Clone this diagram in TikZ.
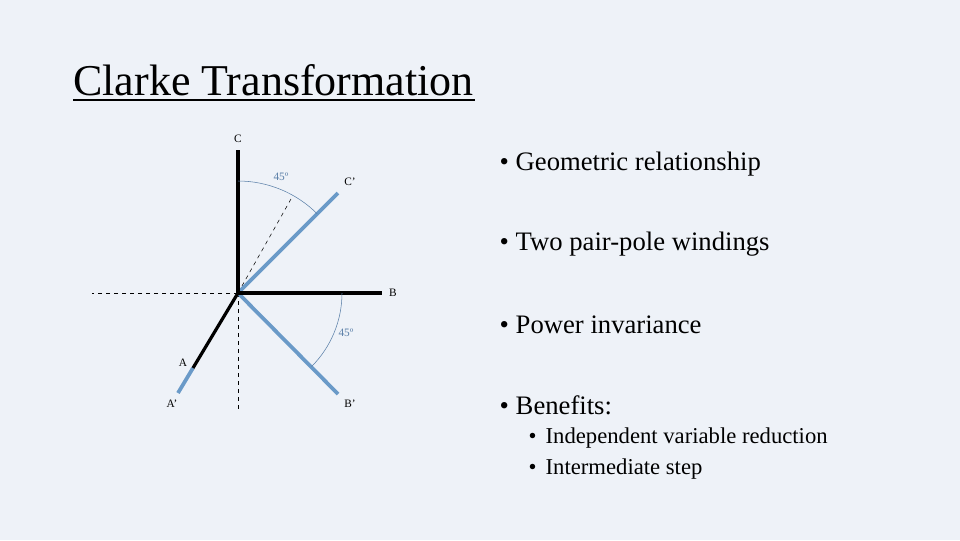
\documentclass[tikz,border=0pt]{standalone}
\usepackage{fontspec}
\setmainfont{Liberation Serif}
\begin{document}
\begin{tikzpicture}[x=0.75pt,y=-0.75pt,
  ax/.style={line width=2.4pt,black},
  bl/.style={line width=2.8pt,color=blueL},
  dsh/.style={dashed,thin},
  arcl/.style={thin,color=arcC},
  lbl/.style={font=\fontsize{8.5}{10}\selectfont},
  albl/.style={font=\fontsize{8.5}{10}\selectfont,text=arcC},
  bul/.style={anchor=west,font=\fontsize{20}{24}\selectfont},
  sbul/.style={anchor=west,font=\fontsize{17}{20}\selectfont}]
\definecolor{bg}{HTML}{EEF2F8}
\definecolor{blueL}{HTML}{6A9AC8}
\definecolor{arcC}{HTML}{5A7FA8}
\fill[bg] (0,0) rectangle (960,540);
\useasboundingbox (0,0) rectangle (960,540);
\node[anchor=west,font=\fontsize{33}{38}\selectfont,inner sep=0] (title) at (73,80) {Clarke Transformation};
\draw[line width=1.1pt] (73,100) -- (475,100);
\coordinate (O) at (238,293);
\coordinate (Ct) at (238,150);
\coordinate (Bt) at (382,293);
\coordinate (Cp) at (338,193);
\coordinate (Bp) at (338,394);
\coordinate (Ae) at (193,368);
\coordinate (Ap) at (178,393);
\coordinate (Dd) at (291,199);
\coordinate (Dl) at (92,293);
\coordinate (Dv) at (238,410);
\draw[dsh] (O) -- (Dl);
\draw[dsh] (O) -- (Dv);
\draw[dsh] (O) -- (Dd);
\draw[bl] (O) -- (Cp);
\draw[bl] (O) -- (Bp);
\draw[bl] (Ae) -- (Ap);
\draw[ax] (O) -- (Ct);
\draw[ax] (O) -- (Bt);
\draw[ax] (O) -- (Ae);
\draw[arcl] (238,181) arc[start angle=-90,end angle=-45,radius=112];
\draw[arcl] (342,293) arc[start angle=0,end angle=45,radius=104];
\node[lbl] (lC) at (238,139) {C};
\node[lbl] (lCp) at (350,182) {C’};
\node[lbl] (lB) at (393,293) {B};
\node[lbl] (lBp) at (350,404) {B’};
\node[lbl] (lA) at (183,363) {A};
\node[lbl] (lAp) at (172,404) {A’};
\node[albl] (a1) at (281,177) {45º};
\node[albl] (a2) at (346,333) {45º};
\node[bul] (b1) at (495,164) {• Geometric relationship};
\node[bul] (b2) at (495,244) {• Two pair-pole windings};
\node[bul] (b3) at (495,325) {• Power invariance};
\node[bul] (b4) at (495,405) {• Benefits:};
\node[sbul] (s1) at (524,438) {•\hspace{0.4em}Independent variable reduction};
\node[sbul] (s2) at (524,469) {•\hspace{0.4em}Intermediate step};
\end{tikzpicture}
\end{document}
